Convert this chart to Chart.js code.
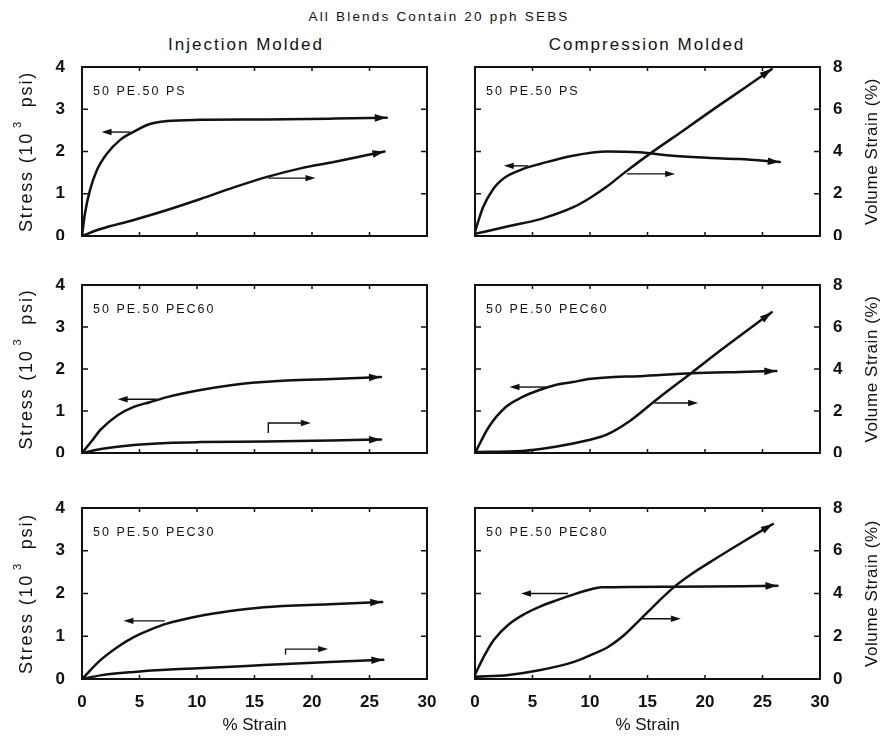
<!DOCTYPE html>
<html>
<head>
<meta charset="utf-8">
<script src="https://cdn.jsdelivr.net/npm/chart.js@4.4.1/dist/chart.umd.min.js"></script>
<style>
  body { margin: 0; background: #fff; width: 885px; height: 737px; position: relative; overflow: hidden;
         font-family: "Liberation Sans", Arial, sans-serif; color: #111; }
  .t { position: absolute; white-space: nowrap; transform: translateX(-50%); line-height: 1; }
  #main { left: 439px; top: 10px; font-size: 13.5px; letter-spacing: 2.2px; }
  #inj { left: 246px; top: 36px; font-size: 17px; letter-spacing: 2px; }
  #comp { left: 647px; top: 36px; font-size: 17px; letter-spacing: 2px; }
  canvas { position: absolute; }
</style>
</head>
<body>
<div class="t" id="main">All Blends Contain 20 pph SEBS</div>
<div class="t" id="inj">Injection Molded</div>
<div class="t" id="comp">Compression Molded</div>
<canvas id="c0"></canvas><canvas id="c1"></canvas>
<canvas id="c2"></canvas><canvas id="c3"></canvas>
<canvas id="c4"></canvas><canvas id="c5"></canvas>
<script>
const strainTicks = [0, 5, 10, 15, 20, 25, 30];
const stressTicks = [0, 1, 2, 3, 4];
const volTicks = [0, 2, 4, 6, 8];

// injection molded - 50 PE / 50 PS
const injPsStrainS = [0, 0.26, 0.7, 1.3, 2.2, 3.3, 4.45, 5.9, 7.4, 10.3, 16, 22, 26.5];
const injPsStress  = [0, 0.54, 1.09, 1.56, 1.96, 2.27, 2.46, 2.65, 2.72, 2.75, 2.76, 2.78, 2.8];
const injPsStrainV = [0, 1.6, 4.5, 7.4, 10.3, 13.2, 16.1, 19, 21.9, 24.8, 26.3];
const injPsVol     = [0, 0.33, 0.76, 1.23, 1.75, 2.3, 2.8, 3.2, 3.5, 3.83, 4.0];

// compression molded - 50 PE / 50 PS
const cmpPsStrainS = [0, 0.7, 1.6, 2.2, 2.8, 4.2, 5.7, 8.5, 11.5, 14.3, 17.2, 20.2, 23, 26.5];
const cmpPsStress  = [0.1, 0.68, 1.12, 1.3, 1.42, 1.59, 1.71, 1.9, 2.0, 1.98, 1.9, 1.85, 1.82, 1.75];
const cmpPsStrainV = [0, 2.8, 5.7, 8.5, 10, 11.5, 13, 15.4, 18, 21, 23.5, 25.8];
const cmpPsVol     = [0.1, 0.45, 0.8, 1.35, 1.8, 2.35, 3.0, 3.97, 4.95, 6.1, 7.03, 7.9];

// injection molded - 50 PE / 50 PEC60
const injP60StrainS = [0, 0.78, 1.64, 3.1, 4.5, 5.9, 7.4, 10.3, 13.1, 14.8, 18.9, 21.7, 26];
const injP60Stress  = [0, 0.26, 0.56, 0.9, 1.1, 1.21, 1.33, 1.5, 1.62, 1.67, 1.74, 1.76, 1.81];
const injP60StrainV = [0, 1.64, 4.5, 7.4, 10.3, 16, 21.7, 26];
const injP60Vol     = [0, 0.19, 0.38, 0.48, 0.52, 0.55, 0.6, 0.64];

// compression molded - 50 PE / 50 PEC60
const cmpP60StrainS = [0, 1.2, 2.7, 4.1, 5.6, 7.0, 8.5, 9.9, 11.4, 14.3, 18.9, 23, 26.2];
const cmpP60Stress  = [0, 0.62, 1.1, 1.33, 1.5, 1.62, 1.69, 1.76, 1.8, 1.83, 1.9, 1.93, 1.95];
const cmpP60StrainV = [0, 4.1, 7.0, 9.9, 11.4, 13.4, 15.8, 18.9, 21.5, 25.8];
const cmpP60Vol     = [0.05, 0.1, 0.3, 0.62, 0.86, 1.5, 2.55, 3.85, 4.95, 6.7];

// injection molded - 50 PE / 50 PEC30
const injP30StrainS = [0, 1.6, 3.1, 4.5, 5.9, 7.3, 10.1, 12.9, 15.8, 21.5, 26.1];
const injP30Stress  = [0, 0.44, 0.75, 0.98, 1.15, 1.29, 1.47, 1.59, 1.68, 1.75, 1.8];
const injP30StrainV = [0, 1.6, 4.5, 7.3, 10.1, 15.8, 21.5, 26.2];
const injP30Vol     = [0, 0.17, 0.33, 0.43, 0.5, 0.65, 0.8, 0.9];

// compression molded - 50 PE / 50 PEC80
const cmpP80StrainS = [0, 0.8, 1.65, 2.9, 4.3, 5.7, 7.2, 8.6, 10.1, 11, 17.3, 26.3];
const cmpP80Stress  = [0.1, 0.54, 0.92, 1.27, 1.52, 1.7, 1.85, 1.98, 2.1, 2.145, 2.16, 2.18];
const cmpP80StrainV = [0, 2.9, 5.7, 8.6, 10.1, 11.6, 13, 14.4, 15.9, 17.3, 18.8, 20.3, 23.1, 25.9];
const cmpP80Vol     = [0.1, 0.19, 0.42, 0.8, 1.13, 1.51, 2.07, 2.8, 3.6, 4.3, 4.9, 5.42, 6.35, 7.25];

// pointer arrows: [axis, from strain, to strain, level, stub level]
const panels = [
  { id: 'c0', row: 0, col: 0, label: '50 PE.50 PS', sx: injPsStrainS, s: injPsStress, vx: injPsStrainV, v: injPsVol,
    arrows: [['y', 4.2, 1.7, 2.46], ['y2', 16.2, 20.3, 2.74]] },
  { id: 'c1', row: 0, col: 1, label: '50 PE.50 PS', sx: cmpPsStrainS, s: cmpPsStress, vx: cmpPsStrainV, v: cmpPsVol,
    arrows: [['y', 4.6, 2.5, 1.66], ['y2', 13.2, 17.4, 2.94]] },
  { id: 'c2', row: 1, col: 0, label: '50 PE.50 PEC60', sx: injP60StrainS, s: injP60Stress, vx: injP60StrainV, v: injP60Vol,
    arrows: [['y', 6.5, 3.1, 1.28], ['y2', 16.2, 19.9, 1.43, 0.95]] },
  { id: 'c3', row: 1, col: 1, label: '50 PE.50 PEC60', sx: cmpP60StrainS, s: cmpP60Stress, vx: cmpP60StrainV, v: cmpP60Vol,
    arrows: [['y', 6.2, 3.0, 1.57], ['y2', 15.6, 19.4, 2.38]] },
  { id: 'c4', row: 2, col: 0, label: '50 PE.50 PEC30', sx: injP30StrainS, s: injP30Stress, vx: injP30StrainV, v: injP30Vol,
    arrows: [['y', 7.2, 3.6, 1.36], ['y2', 17.7, 21.4, 1.4, 1.15]] },
  { id: 'c5', row: 2, col: 1, label: '50 PE.50 PEC80', sx: cmpP80StrainS, s: cmpP80Stress, vx: cmpP80StrainV, v: cmpP80Vol,
    arrows: [['y', 8.1, 4.0, 2.0], ['y2', 14.4, 17.9, 2.82]] },
];

const INK = '#111';
const FONT = '"Liberation Sans", Arial, sans-serif';

function head(ctx, fx, fy, tx, ty, len, half) {
  const a = Math.atan2(ty - fy, tx - fx);
  const c = Math.cos(a), s = Math.sin(a);
  ctx.beginPath();
  ctx.moveTo(tx, ty);
  ctx.lineTo(tx - len * c - half * s, ty - len * s + half * c);
  ctx.lineTo(tx - len * c + half * s, ty - len * s - half * c);
  ctx.closePath();
  ctx.fill();
}

// "Stress (10^3 psi)" with a raised 3, read bottom to top
function stressTitle(ctx, cx, cy) {
  const big = '18px ' + FONT, small = '11px ' + FONT;
  const a = 'Stress (10', b = '3', c = ' psi)';
  ctx.save();
  ctx.letterSpacing = '1.8px';
  ctx.font = big;
  const wa = ctx.measureText(a).width, wc = ctx.measureText(c).width;
  ctx.font = small;
  const wb = ctx.measureText(b).width + 10;
  const total = wa + wb + wc;
  ctx.translate(cx, cy);
  ctx.rotate(-Math.PI / 2);
  ctx.textAlign = 'left';
  ctx.textBaseline = 'middle';
  let x = -total / 2;
  ctx.font = big;
  ctx.fillText(a, x, 0);
  x += wa;
  ctx.font = small;
  ctx.fillText(b, x + 4, -9);
  x += wb;
  ctx.font = big;
  ctx.fillText(c, x, 0);
  ctx.restore();
}

function decor(p) {
  return {
    id: 'decor',
    afterDatasetsDraw(chart) {
      const { ctx, chartArea: a, scales } = chart;
      ctx.save();
      ctx.strokeStyle = INK;
      ctx.fillStyle = INK;
      // frame
      ctx.lineWidth = 2;
      ctx.strokeRect(a.left, a.top, a.right - a.left, a.bottom - a.top);
      // inward ticks
      ctx.lineWidth = 1.5;
      ctx.beginPath();
      strainTicks.slice(1, -1).forEach(v => {
        const px = scales.x.getPixelForValue(v);
        ctx.moveTo(px, a.top); ctx.lineTo(px, a.top + 4);
        ctx.moveTo(px, a.bottom); ctx.lineTo(px, a.bottom - 4);
      });
      stressTicks.slice(1, -1).forEach(v => {
        const py = scales.y.getPixelForValue(v);
        ctx.moveTo(a.left, py); ctx.lineTo(a.left + 6, py);
      });
      volTicks.slice(1, -1).forEach(v => {
        const py = scales.y2.getPixelForValue(v);
        ctx.moveTo(a.right, py); ctx.lineTo(a.right - 6, py);
      });
      ctx.stroke();

      // arrowheads at curve ends
      chart.data.datasets.forEach((ds, i) => {
        const pts = chart.getDatasetMeta(i).data;
        const e = pts[pts.length - 1];
        let fx = e.cp1x, fy = e.cp1y;
        if (fx === undefined || Math.hypot(e.x - fx, e.y - fy) < 0.5) {
          fx = pts[pts.length - 2].x; fy = pts[pts.length - 2].y;
        }
        head(ctx, fx, fy, e.x, e.y, 12, 3.8);
      });

      // pointer arrows showing which axis a curve belongs to
      ctx.lineWidth = 1.4;
      p.arrows.forEach(([ax, x1, x2, lv, stub]) => {
        const px1 = scales.x.getPixelForValue(x1);
        const px2 = scales.x.getPixelForValue(x2);
        const py = scales[ax].getPixelForValue(lv);
        const dir = Math.sign(px2 - px1);
        ctx.beginPath();
        if (stub !== undefined) {
          ctx.moveTo(px1, scales[ax].getPixelForValue(stub));
          ctx.lineTo(px1, py);
        } else {
          ctx.moveTo(px1, py);
        }
        ctx.lineTo(px2 - dir * 6, py);
        ctx.stroke();
        head(ctx, px1, py, px2, py, 10, 3.2);
      });

      // panel label
      ctx.font = '12.5px ' + FONT;
      ctx.letterSpacing = '2px';
      ctx.textBaseline = 'alphabetic';
      ctx.textAlign = 'left';
      ctx.fillText(p.label, a.left + 11, a.top + 28);

      // axis titles
      const midY = (a.top + a.bottom) / 2;
      if (p.col === 0) {
        stressTitle(ctx, 27, midY);
      } else {
        ctx.letterSpacing = '0.6px';
        ctx.font = '17px ' + FONT;
        ctx.translate(a.right + 52, midY);
        ctx.rotate(-Math.PI / 2);
        ctx.textAlign = 'center';
        ctx.textBaseline = 'middle';
        ctx.fillText('Volume Strain (%)', 0, 0);
      }
      ctx.restore();
    }
  };
}

const rowTop = [55, 273, 496];
const rowArea = [[67, 236], [285, 453], [508, 679]];

function makePanel(p) {
  const canvas = document.getElementById(p.id);
  const bottomRow = p.row === 2;
  const left = p.col === 0;
  const cLeft = left ? 0 : 462;
  const cWidth = left ? 440 : 423;
  const hx = bottomRow ? 58 : 4;
  const top = rowTop[p.row];
  const [aTop, aBottom] = rowArea[p.row];
  const cHeight = aBottom + hx - top;
  canvas.width = cWidth; canvas.height = cHeight;
  canvas.style.left = cLeft + 'px'; canvas.style.top = top + 'px';
  canvas.style.width = cWidth + 'px'; canvas.style.height = cHeight + 'px';

  const tickFont = { family: FONT, size: 17, weight: 'bold' };
  const fitY = w => s => { s.width = w; s.paddingTop = 0; s.paddingBottom = 0; };
  new Chart(canvas, {
    type: 'line',
    data: {
      datasets: [
        { data: p.sx.map((x, i) => ({ x, y: p.s[i] })), yAxisID: 'y' },
        { data: p.vx.map((x, i) => ({ x, y: p.v[i] })), yAxisID: 'y2' },
      ]
    },
    options: {
      responsive: false,
      animation: false,
      events: [],
      layout: { padding: { top: aTop - top, left: 0, right: 0, bottom: 0 } },
      plugins: { legend: { display: false }, tooltip: { enabled: false } },
      elements: {
        point: { radius: 0 },
        line: { borderColor: INK, borderWidth: 2.5, cubicInterpolationMode: 'monotone',
                borderCapStyle: 'round', borderJoinStyle: 'round' }
      },
      scales: {
        x: {
          type: 'linear', min: 0, max: 30,
          grid: { display: false, drawTicks: false }, border: { display: false },
          ticks: { display: bottomRow, stepSize: 5, padding: 13, color: INK, font: tickFont },
          title: { display: bottomRow, text: '% Strain', color: INK, padding: { top: 0, bottom: 1 },
                   font: { family: FONT, size: 17 } },
          afterFit: s => { s.height = hx; s.paddingLeft = 0; s.paddingRight = 0; }
        },
        y: {
          position: 'left', min: 0, max: 4,
          grid: { display: false, drawTicks: false }, border: { display: false },
          ticks: { display: left, stepSize: 1, padding: 17, color: INK, font: tickFont },
          afterFit: fitY(left ? 82 : 13)
        },
        y2: {
          position: 'right', min: 0, max: 8,
          grid: { display: false, drawTicks: false }, border: { display: false },
          ticks: { display: !left, stepSize: 2, padding: 13, color: INK, font: tickFont },
          afterFit: fitY(left ? 13 : 65)
        }
      }
    },
    plugins: [decor(p)]
  });
}

panels.forEach(makePanel);
</script>
</body>
</html>
